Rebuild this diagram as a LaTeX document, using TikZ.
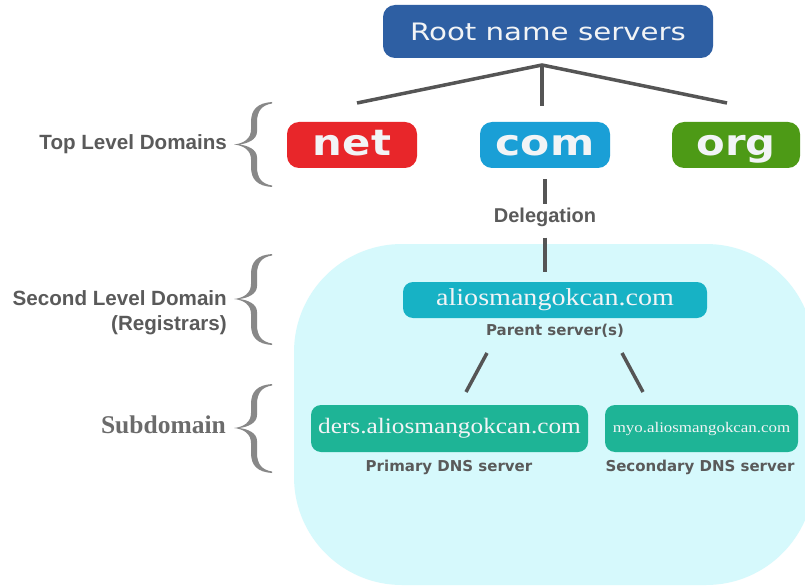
\documentclass[tikz,border=0pt]{standalone}
\usepackage{fontspec}
\usepackage{graphicx}
\setmainfont{Liberation Serif}
\newfontfamily\dejavu{DejaVu Sans}
\newfontfamily\libsans{Liberation Sans}
\definecolor{rootblue}{HTML}{2E5FA3}
\definecolor{netred}{HTML}{E8262A}
\definecolor{comblue}{HTML}{1A9FD6}
\definecolor{orggreen}{HTML}{4D9A16}
\definecolor{regioncol}{HTML}{D6F9FC}
\definecolor{aliocol}{HTML}{17B2C5}
\definecolor{subcol}{HTML}{1EB496}
\definecolor{linegray}{HTML}{555555}
\definecolor{labelgray}{HTML}{5A5A5A}
\definecolor{bracegray}{HTML}{888888}
\definecolor{boxtext}{HTML}{F2F4F6}
\tikzset{
  box/.style={rounded corners=12pt, inner sep=0pt, text=boxtext},
  conn/.style={draw=linegray, line width=3.5pt},
  lbl/.style={text=labelgray, inner sep=0pt},
  tld/.style={box, minimum width=130pt, minimum height=46pt, text height=26pt, text depth=5pt,
    font=\dejavu\bfseries\fontsize{36}{40}\selectfont},
  sidelbl/.style={lbl, anchor=east, align=right, font=\libsans\bfseries\fontsize{20.6}{25}\selectfont},
  smalllbl/.style={lbl, font=\dejavu\bfseries\fontsize{15}{18}\selectfont},
}
\newcommand{\mybrace}[4]{%
\fill[bracegray] (#1+38,#2) .. controls (#1+24,#2+1) and (#1+17,#2+7) .. (#1+17,#2+20)
 -- (#1+17,#3-15) .. controls (#1+17,#3-6) and (#1+10,#3-1) .. (#1,#3)
 .. controls (#1+10,#3+1) and (#1+17,#3+6) .. (#1+17,#3+15)
 -- (#1+17,#4-20) .. controls (#1+17,#4-7) and (#1+24,#4-1) .. (#1+38,#4)
 -- (#1+38,#4-1.5) .. controls (#1+28,#4-3) and (#1+23,#4-9) .. (#1+23,#4-20)
 -- (#1+23,#3+13) .. controls (#1+23,#3+5) and (#1+14,#3+1) .. (#1+5,#3)
 .. controls (#1+14,#3-1) and (#1+23,#3-5) .. (#1+23,#3-13)
 -- (#1+23,#2+20) .. controls (#1+23,#2+9) and (#1+28,#2+3) .. (#1+38,#2+1.5) -- cycle;}
\begin{document}
\begin{tikzpicture}[x=1pt,y=-1pt]
\useasboundingbox[fill=white] (0,0) rectangle (805,588);
% light region
\fill[regioncol, rounded corners=108pt] (294,244) rectangle (814,585);
% root
\node[box, fill=rootblue, minimum width=330pt, minimum height=53pt,
  font=\dejavu\fontsize{24}{28}\selectfont] (root) at (548,31.5)
  {\scalebox{1.22}[1]{Root name servers}};
% TLDs
\node[tld, fill=netred] (net) at (352,145) {\scalebox{1.16}[1]{net}};
\node[tld, fill=comblue] (com) at (545,145) {\scalebox{1.18}[1]{com}};
\node[tld, fill=orggreen, minimum width=128pt] (org) at (736,145) {\scalebox{1.16}[1]{org}};
% root connectors
\coordinate (j) at (542,65);
\coordinate (netend) at (357,103);
\coordinate (comend) at (542,106);
\coordinate (orgend) at (727,103);
\draw[conn] (netend) -- (j) -- (orgend);
\draw[conn] (j) -- (comend);
% delegation
\node[lbl, font=\libsans\bfseries\fontsize{20}{24}\selectfont] (deleg) at (545,217) {Delegation};
% second level
\node[box, fill=aliocol, rounded corners=10pt, minimum width=304pt, minimum height=36pt,
  font=\fontsize{24.4}{28}\selectfont] (alio) at (555,300)
  {\scalebox{1.15}[1]{aliosmangokcan.com}};
\node[smalllbl] (parent) at (555,331) {Parent server(s)};
\draw[conn, shorten <=11pt, shorten >=3pt] (com.south) -- (deleg.north);
\draw[conn, shorten <=11pt, shorten >=10pt] (deleg.south) -- (deleg.south |- alio.north);
% subdomains
\node[box, fill=subcol, rounded corners=10pt, minimum width=277pt, minimum height=47pt,
  font=\fontsize{22}{26}\selectfont] (ders) at (449.5,428.5)
  {\scalebox{1.15}[1]{ders.aliosmangokcan.com}};
\node[box, fill=subcol, rounded corners=10pt, minimum width=193pt, minimum height=47pt,
  font=\fontsize{14.7}{18}\selectfont] (myo) at (701.5,428.5)
  {\scalebox{1.15}[1]{myo.aliosmangokcan.com}};
\node[smalllbl] (prim) at (449,467) {Primary DNS server};
\node[smalllbl] (sec) at (700,467) {Secondary DNS server};
\coordinate (p1a) at (487,353);
\coordinate (p1b) at (466,392);
\coordinate (p2a) at (622,353);
\coordinate (p2b) at (643,392);
\draw[conn] (p1a) -- (p1b);
\draw[conn] (p2a) -- (p2b);
% left labels
\node[sidelbl] (tldl) at (227,144) {Top Level Domains};
\node[sidelbl] (sldl) at (227,313) {Second Level Domain\\(Registrars)};
\node[lbl, anchor=east, text=labelgray!90, font=\bfseries\fontsize{25.5}{28}\selectfont] (subl) at (226,425)
  {Subdomain};
% braces
\mybrace{234}{102}{144.5}{187}
\mybrace{234}{254}{299}{345}
\mybrace{234}{384}{428}{473}
\end{tikzpicture}
\end{document}
